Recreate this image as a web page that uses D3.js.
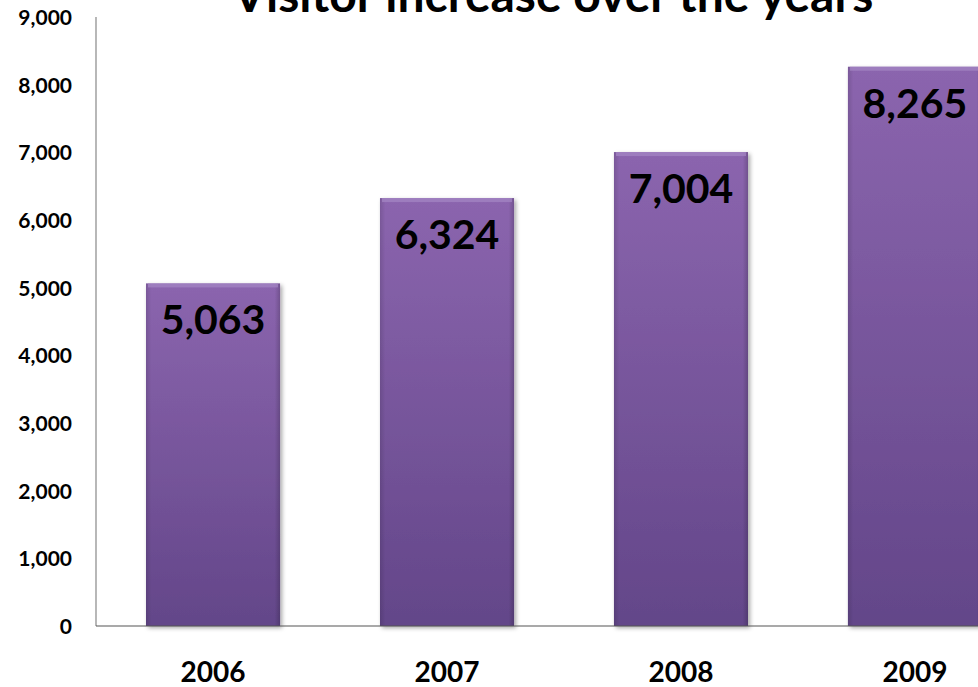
<!DOCTYPE html>
<html>
<head>
<meta charset="utf-8">
<title>Visitor increase over the years</title>
<script src="https://cdn.jsdelivr.net/npm/d3@7"></script>
<style>
  body { margin: 0; background: #fff; }
  svg { display: block; font-family: Lato, "Open Sans", sans-serif; font-weight: bold; }
  .axis path, .axis line { stroke: none; }
</style>
</head>
<body>
<div id="chart"></div>
<script>
// data
var years = ["2006", "2007", "2008", "2009"];
var visitors = [5063, 6324, 7004, 8265];
var yTicks = [0, 1000, 2000, 3000, 4000, 5000, 6000, 7000, 8000, 9000];

var width = 978, height = 687;
var plotLeft = 96, plotRight = 1032, plotTop = 17, plotBottom = 626;

var svg = d3.select("#chart").append("svg")
  .attr("width", width)
  .attr("height", height);

var defs = svg.append("defs");
var grad = defs.append("linearGradient")
  .attr("id", "barGrad")
  .attr("x1", 0).attr("y1", 0).attr("x2", 0).attr("y2", 1);
grad.append("stop").attr("offset", "0%").attr("stop-color", "#8b65ae");
grad.append("stop").attr("offset", "100%").attr("stop-color", "#634689");

var side = defs.append("linearGradient")
  .attr("id", "sideGrad")
  .attr("x1", 0).attr("y1", 0).attr("x2", 1).attr("y2", 0);
side.append("stop").attr("offset", "0%").attr("stop-color", "#000").attr("stop-opacity", 0.12);
side.append("stop").attr("offset", "4%").attr("stop-color", "#000").attr("stop-opacity", 0);
side.append("stop").attr("offset", "96%").attr("stop-color", "#000").attr("stop-opacity", 0);
side.append("stop").attr("offset", "100%").attr("stop-color", "#000").attr("stop-opacity", 0.18);

var shadow = defs.append("filter").attr("id", "shadow")
  .attr("x", "-10%").attr("y", "-10%").attr("width", "130%").attr("height", "130%");
shadow.append("feDropShadow")
  .attr("dx", 2).attr("dy", 2).attr("stdDeviation", 2)
  .attr("flood-color", "#000").attr("flood-opacity", 0.35);

var x = d3.scaleBand()
  .domain(years)
  .range([plotLeft, plotRight])
  .paddingInner(0.427)
  .paddingOuter(0.2137);

var y = d3.scaleLinear()
  .domain([0, 9000])
  .range([plotBottom, plotTop]);

// title (cut off at the top like the original)
svg.append("text")
  .attr("x", 553)
  .attr("y", 12)
  .attr("text-anchor", "middle")
  .attr("font-size", 48)
  .attr("fill", "#000")
  .text("Visitor increase over the years");

// y axis
svg.append("g")
  .attr("class", "axis")
  .attr("transform", "translate(" + (plotLeft - 21) + ",0)")
  .call(d3.axisLeft(y).tickValues(yTicks).tickSize(0).tickFormat(d3.format(",")))
  .call(function(g) {
    g.selectAll("text")
      .attr("font-size", 21)
      .attr("font-family", "Lato, sans-serif")
      .attr("font-weight", "bold")
      .attr("fill", "#000")
      .attr("dy", "0.36em");
  });

svg.append("line")
  .attr("x1", plotLeft).attr("x2", plotLeft)
  .attr("y1", plotTop).attr("y2", plotBottom)
  .attr("stroke", "#888").attr("stroke-width", 1.2);

// bars
var bars = svg.selectAll(".bar")
  .data(visitors)
  .enter().append("g")
  .attr("class", "bar");

bars.append("rect")
  .attr("x", function(d, i) { return x(years[i]); })
  .attr("y", function(d) { return y(d); })
  .attr("width", x.bandwidth())
  .attr("height", function(d) { return plotBottom - y(d); })
  .attr("fill", "url(#barGrad)")
  .attr("filter", "url(#shadow)");

bars.append("rect")
  .attr("x", function(d, i) { return x(years[i]); })
  .attr("y", function(d) { return y(d); })
  .attr("width", x.bandwidth())
  .attr("height", function(d) { return plotBottom - y(d); })
  .attr("fill", "url(#sideGrad)");

// top bevel highlight
bars.append("rect")
  .attr("x", function(d, i) { return x(years[i]) + 2; })
  .attr("y", function(d) { return y(d); })
  .attr("width", x.bandwidth() - 4)
  .attr("height", 4)
  .attr("fill", "#a587c4")
  .attr("opacity", 0.7);

// baseline
svg.append("line")
  .attr("x1", plotLeft).attr("x2", width)
  .attr("y1", plotBottom).attr("y2", plotBottom)
  .attr("stroke", "#555").attr("stroke-width", 1.2);

// value labels
bars.append("text")
  .attr("x", function(d, i) { return x(years[i]) + x.bandwidth() / 2; })
  .attr("y", function(d) { return y(d) + 51; })
  .attr("text-anchor", "middle")
  .attr("font-size", 41)
  .attr("fill", "#000")
  .text(function(d) { return d3.format(",")(d); });

// year labels
svg.selectAll(".year")
  .data(years)
  .enter().append("text")
  .attr("class", "year")
  .attr("x", function(d) { return x(d) + x.bandwidth() / 2; })
  .attr("y", 682)
  .attr("text-anchor", "middle")
  .attr("font-size", 28)
  .attr("fill", "#000")
  .text(function(d) { return d; });
</script>
</body>
</html>
